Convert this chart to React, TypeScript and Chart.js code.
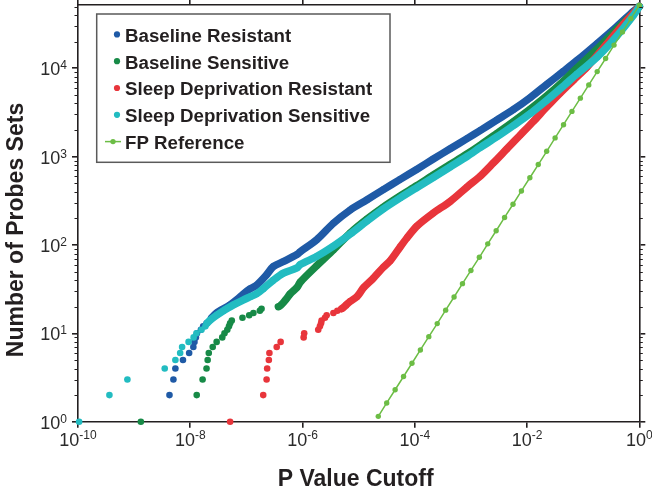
import React, { useEffect, useRef } from "react";
import { Chart, registerables } from "chart.js";

Chart.register(...registerables);

// ---------- data (x values given as log10 of the P value cutoff) ----------
const seriesLabels = [
  "Baseline Resistant",
  "Baseline Sensitive",
  "Sleep Deprivation Resistant",
  "Sleep Deprivation Sensitive",
  "FP Reference",
];

const baselineResistantLogP = [-8.37, -8.30, -8.265, -8.13, -8.02, -7.945, -7.925, -7.90, -7.88, -7.81, -7.77, -7.71, -7.62, -7.53, -7.47, -7.29, -7.17, -7.05, -6.93, -6.82, -6.64, -6.52, -6.34, -6.10, -6.04, -5.75, -5.45, -5.15, -4.85, -4.56, -4.26, -3.96, -3.67, -3.37, -3.07, -2.83, -2.54, -2.24, -1.94, -1.65, -1.35, -1.11, -0.75, -0.40, -0.10, 0];
const baselineResistantCount = [2, 3, 4, 5, 6, 7, 8, 9, 10, 11, 12, 13, 15, 17, 18, 21, 24, 28, 32, 35, 46, 57, 65, 78, 84, 114, 176, 249, 325, 424, 553, 721, 940, 1227, 1600, 1986, 2588, 3420, 4677, 6560, 9250, 12250, 19090, 29720, 44540, 50000];

const baselineSensitiveLogP = [-8.88, -7.885, -7.78, -7.71, -7.69, -7.67, -7.60, -7.53, -7.43, -7.39, -7.34, -7.31, -7.29, -7.26, -7.07, -6.95, -6.875, -6.76, -6.73, -6.43, -6.30, -6.22, -6.10, -6.04, -5.75, -5.45, -5.15, -4.85, -4.56, -4.26, -3.96, -3.67, -3.37, -3.07, -2.83, -2.54, -2.24, -1.94, -1.65, -1.35, -1.11, -0.75, -0.40, -0.10, 0];
const baselineSensitiveCount = [1, 2, 3, 4, 5, 6, 7, 8, 9, 10, 11, 12, 13, 14, 15, 16, 17, 18, 19, 20, 24, 28, 33, 38, 58, 88, 137, 197, 269, 359, 471, 620, 815, 1072, 1355, 1828, 2500, 3460, 4860, 7180, 10080, 16520, 27860, 42270, 50000];

const sleepResistantLogP = [-7.29, -6.70, -6.64, -6.63, -6.60, -6.59, -6.46, -6.39, -5.98, -5.97, -5.72, -5.69, -5.67, -5.66, -5.60, -5.57, -5.45, -5.38, -5.30, -5.22, -5.15, -5.03, -4.91, -4.74, -4.56, -4.44, -4.26, -4.14, -3.96, -3.67, -3.37, -3.07, -2.83, -2.60, -2.36, -2.12, -1.88, -1.65, -1.41, -1.17, -0.93, -0.58, -0.28, 0];
const sleepResistantCount = [1, 2, 3, 4, 5, 6, 7, 8, 9, 10, 11, 12, 13, 14, 15, 16, 17, 18, 19, 21, 23, 26, 33, 42, 56, 66, 95, 120, 164, 230, 311, 453, 604, 848, 1222, 1758, 2534, 3648, 5250, 7380, 10350, 18840, 31710, 50000];

const sleepSensitiveLogP = [-9.98, -9.44, -9.12, -8.455, -8.265, -8.18, -8.145, -8.03, -7.94, -7.89, -7.80, -7.73, -7.70, -7.65, -7.53, -7.41, -7.35, -7.23, -7.05, -6.93, -6.82, -6.70, -6.52, -6.34, -6.10, -6.04, -5.75, -5.45, -5.15, -4.85, -4.56, -4.26, -3.96, -3.67, -3.37, -3.07, -2.83, -2.54, -2.24, -1.94, -1.65, -1.35, -1.11, -0.75, -0.40, -0.10, 0];
const sleepSensitiveCount = [1, 2, 3, 4, 5, 6, 7, 8, 9, 10, 11, 12, 13, 14, 16, 18, 19, 21, 24, 26, 28, 32, 40, 48, 55, 60, 74, 97, 133, 187, 256, 341, 448, 581, 764, 1004, 1270, 1669, 2253, 3077, 4324, 6310, 8614, 13430, 23220, 40100, 50000];

const fpReferenceLogP = [-4.65, -4.50, -4.35, -4.20, -4.05, -3.90, -3.75, -3.60, -3.45, -3.30, -3.15, -3.00, -2.85, -2.70, -2.55, -2.40, -2.25, -2.10, -1.95, -1.80, -1.65, -1.50, -1.35, -1.20, -1.05, -0.90, -0.75, -0.60, -0.45, -0.30, -0.15, 0];
const fpReferenceCount = [1.15, 1.63, 2.30, 3.25, 4.59, 6.49, 9.17, 12.9, 18.3, 25.8, 36.5, 51.5, 72.6, 103, 145, 205, 289, 409, 577, 814, 1150, 1630, 2300, 3250, 4590, 6490, 9170, 12900, 18300, 25800, 36500, 51500];

// index from which the points merge into a continuous band
const denseFrom = [12, 19, 18, 12];

const xTickExponents = [-10, -8, -6, -4, -2, 0];
const yTickExponents = [0, 1, 2, 3, 4];
const xTitle = "P Value Cutoff";
const yTitle = "Number of Probes Sets";

// ---------- style ----------
const FONT = '"Liberation Sans", Arial, Helvetica, sans-serif';
const AXIS = "#231f20";
const LABEL = "#2a2a2a";
const COLORS = ["#1f5aa6", "#178a47", "#e8353b", "#22bcc1", "#6cbd45"];
const X_MIN = 1e-10;
const X_MAX = 1;
const Y_MIN = 1;
const Y_MAX = 53000;

function toPoints(logP: number[], counts: number[]) {
  return logP.map((lp, i) => ({ x: Math.pow(10, lp), y: counts[i] }));
}

function drawPow(ctx: CanvasRenderingContext2D, x: number, baseline: number, exp: string, align: "center" | "right", raise: number) {
  ctx.font = `18px ${FONT}`;
  const w1 = ctx.measureText("10").width;
  ctx.font = `12px ${FONT}`;
  const w2 = ctx.measureText(exp).width;
  const start = align === "center" ? x - (w1 + w2) / 2 : x - (w1 + w2);
  ctx.textAlign = "left";
  ctx.textBaseline = "alphabetic";
  ctx.fillStyle = LABEL;
  ctx.font = `18px ${FONT}`;
  ctx.fillText("10", start, baseline);
  ctx.font = `12px ${FONT}`;
  ctx.fillText(exp, start + w1, baseline - raise);
}

export default function App() {
  const ref = useRef<HTMLCanvasElement>(null);

  useEffect(() => {
    const canvas = ref.current;
    if (!canvas) return;

    const overlay = {
      id: "overlay",
      afterDraw(chart: any) {
        const ctx: CanvasRenderingContext2D = chart.ctx;
        const a = chart.chartArea;
        const xs = chart.scales.x;
        const ys = chart.scales.y;
        ctx.save();

        // minor ticks on both y axes
        ctx.strokeStyle = AXIS;
        ctx.lineWidth = 1.2;
        ctx.beginPath();
        for (const e of yTickExponents) {
          for (let m = 2; m <= 9; m++) {
            const v = m * Math.pow(10, e);
            if (v > ys.max) break;
            const py = Math.round(ys.getPixelForValue(v)) + 0.5;
            ctx.moveTo(a.left - 3.5, py);
            ctx.lineTo(a.left, py);
            ctx.moveTo(a.right, py);
            ctx.lineTo(a.right + 3.5, py);
          }
        }
        ctx.stroke();

        // tick labels
        for (const e of xTickExponents) {
          drawPow(ctx, xs.getPixelForValue(Math.pow(10, e)), a.bottom + 24.5, String(e), "center", 7.5);
        }
        for (const e of yTickExponents) {
          drawPow(ctx, a.left - 11, ys.getPixelForValue(Math.pow(10, e)) + 7, String(e), "right", 6);
        }

        // axis titles
        ctx.fillStyle = AXIS;
        ctx.font = `bold 23px ${FONT}`;
        ctx.textAlign = "center";
        ctx.textBaseline = "alphabetic";
        ctx.fillText(xTitle, (a.left + a.right) / 2 - 3, 486);
        ctx.save();
        ctx.translate(22.5, (a.top + a.bottom) / 2 + 17);
        ctx.rotate(-Math.PI / 2);
        ctx.fillText(yTitle, 0, 0);
        ctx.restore();

        // legend box
        const lx = 96.7, ly = 14, lw = 293.3, lh = 148.3;
        ctx.fillStyle = "#ffffff";
        ctx.fillRect(lx, ly, lw, lh);
        ctx.strokeStyle = "#5a5a5a";
        ctx.lineWidth = 1.5;
        ctx.strokeRect(lx, ly, lw, lh);
        const ds = chart.data.datasets;
        for (let i = 0; i < ds.length; i++) {
          const base = 41.7 + i * 26.8;
          const cy = base - 7.3;
          const col = ds[i].borderColor as string;
          if (i === 4) {
            ctx.strokeStyle = col;
            ctx.lineWidth = 1.5;
            ctx.beginPath();
            ctx.moveTo(105, cy);
            ctx.lineTo(121, cy);
            ctx.stroke();
            ctx.fillStyle = col;
            ctx.beginPath();
            ctx.arc(113, cy, 2.7, 0, Math.PI * 2);
            ctx.fill();
          } else {
            ctx.fillStyle = col;
            ctx.beginPath();
            ctx.arc(117, cy, 3.1, 0, Math.PI * 2);
            ctx.fill();
          }
          ctx.fillStyle = AXIS;
          ctx.font = `bold 18.7px ${FONT}`;
          ctx.textAlign = "left";
          ctx.textBaseline = "alphabetic";
          ctx.fillText(ds[i].label, 125, base);
        }
        ctx.restore();
      },
    };

    const bandDataset = (i: number, logP: number[], counts: number[], order: number) => ({
      label: seriesLabels[i],
      data: toPoints(logP, counts),
      showLine: true,
      borderColor: COLORS[i],
      backgroundColor: COLORS[i],
      pointBackgroundColor: COLORS[i],
      pointBorderWidth: 0,
      pointRadius: 3.3,
      borderWidth: 7.5,
      borderJoinStyle: "round",
      borderCapStyle: "round",
      tension: 0.3,
      order,
      clip: false,
      segment: {
        borderColor: (c: any) => (c.p0DataIndex < denseFrom[i] ? "rgba(0,0,0,0)" : undefined),
      },
    });

    const xTicks = (s: any) => {
      s.ticks = xTickExponents.map((e) => ({ value: Math.pow(10, e) }));
    };
    const yTicks = (s: any) => {
      s.ticks = yTickExponents.map((e) => ({ value: Math.pow(10, e) }));
    };
    const grid = (len: number) => ({
      display: true,
      drawOnChartArea: false,
      drawTicks: true,
      tickLength: len,
      tickWidth: 1.6,
      tickColor: AXIS,
      color: AXIS,
      lineWidth: 1.6,
    });
    const border = { display: true, color: AXIS, width: 1.6 };

    const chart = new Chart(canvas, {
      type: "scatter",
      data: {
        datasets: [
          bandDataset(0, baselineResistantLogP, baselineResistantCount, 4),
          bandDataset(1, baselineSensitiveLogP, baselineSensitiveCount, 3),
          bandDataset(2, sleepResistantLogP, sleepResistantCount, 2),
          bandDataset(3, sleepSensitiveLogP, sleepSensitiveCount, 1),
          {
            label: seriesLabels[4],
            data: toPoints(fpReferenceLogP, fpReferenceCount),
            showLine: true,
            borderColor: COLORS[4],
            backgroundColor: COLORS[4],
            pointBackgroundColor: COLORS[4],
            pointBorderWidth: 0,
            pointRadius: 2.7,
            borderWidth: 1.5,
            tension: 0,
            order: 0,
            clip: false,
          } as any,
        ] as any,
      },
      options: {
        responsive: false,
        animation: false,
        devicePixelRatio: 1,
        events: [],
        layout: { padding: 0 },
        plugins: { legend: { display: false }, tooltip: { enabled: false } },
        scales: {
          x: {
            type: "logarithmic",
            position: "bottom",
            min: X_MIN,
            max: X_MAX,
            afterBuildTicks: xTicks,
            ticks: { display: false },
            grid: grid(6),
            border,
            afterFit: (s: any) => {
              s.height = 67.3;
            },
          },
          x2: {
            type: "logarithmic",
            axis: "x",
            display: true,
            position: "top",
            min: X_MIN,
            max: X_MAX,
            afterBuildTicks: xTicks,
            ticks: { display: false },
            grid: grid(5),
            border,
            afterFit: (s: any) => {
              s.height = 4.3;
            },
          },
          y: {
            type: "logarithmic",
            position: "left",
            min: Y_MIN,
            max: Y_MAX,
            afterBuildTicks: yTicks,
            ticks: { display: false },
            grid: grid(6),
            border,
            afterFit: (s: any) => {
              s.width = 78;
            },
          },
          y2: {
            type: "logarithmic",
            axis: "y",
            display: true,
            position: "right",
            min: Y_MIN,
            max: Y_MAX,
            afterBuildTicks: yTicks,
            ticks: { display: false },
            grid: grid(6),
            border,
            afterFit: (s: any) => {
              s.width = 12.7;
            },
          },
        } as any,
      },
      plugins: [overlay],
    });

    return () => chart.destroy();
  }, []);

  return (
    <div style={{ position: "absolute", left: 0, top: 0, width: 652, height: 489, background: "#fff" }}>
      <canvas ref={ref} width={652} height={489} style={{ display: "block" }} />
    </div>
  );
}
